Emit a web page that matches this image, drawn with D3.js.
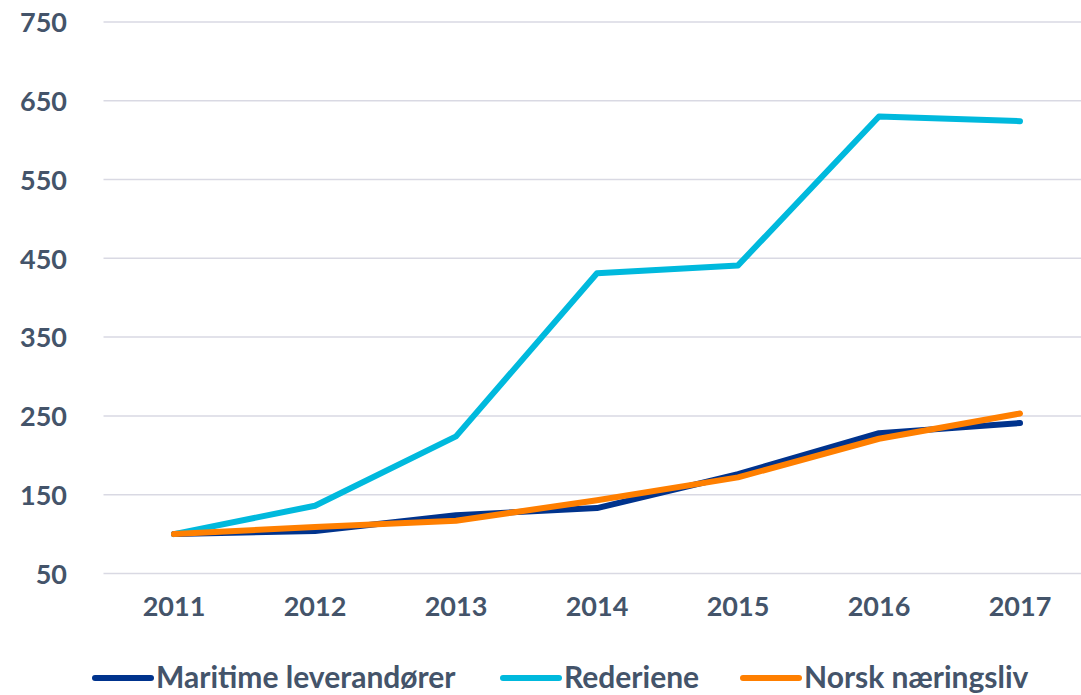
<!DOCTYPE html>
<html>
<head>
<meta charset="utf-8">
<script src="https://cdn.jsdelivr.net/npm/d3@7"></script>
<style>
  html, body { margin: 0; padding: 0; background: #fff; }
  svg { display: block; }
  text { font-family: Lato, "Open Sans", sans-serif; font-weight: 700; fill: #44546A; }
</style>
</head>
<body>
<svg id="chart" width="1081" height="695"></svg>
<script>
const years = ["2011", "2012", "2013", "2014", "2015", "2016", "2017"];
const maritime = [100, 104, 124, 133, 176, 228, 241];
const rederiene = [100, 136, 224, 431, 441, 630, 624];
const norsk = [100, 109, 117, 143, 172, 221, 253];
const yTicks = [50, 150, 250, 350, 450, 550, 650, 750];
const seriesNames = ["Maritime leverandører", "Rederiene", "Norsk næringsliv"];
const seriesColors = ["#00338D", "#00B9DD", "#FF7F00"];

const series = [
  { name: seriesNames[0], color: seriesColors[0], values: maritime },
  { name: seriesNames[1], color: seriesColors[1], values: rederiene },
  { name: seriesNames[2], color: seriesColors[2], values: norsk }
];

const svg = d3.select("#chart");
const W = 1081;

const x = d3.scaleBand().domain(years).range([103.5, 1090.5]).padding(0);
const y = d3.scaleLinear().domain([50, 750]).range([573.5, 21.9]);

// gridlines
svg.append("g")
  .selectAll("line")
  .data(yTicks)
  .join("line")
  .attr("x1", 103.5)
  .attr("x2", W)
  .attr("y1", d => y(d))
  .attr("y2", d => y(d))
  .attr("stroke", "#D9D9E3")
  .attr("stroke-width", 1.5);

// y axis labels
const yAxis = d3.axisLeft(y).tickValues(yTicks).tickSize(0).tickPadding(0).tickFormat(d3.format("d"));
const gy = svg.append("g").attr("transform", "translate(67,0)").call(yAxis);
gy.select(".domain").remove();
gy.selectAll("text")
  .attr("font-size", 27)
  .style("font-family", "Lato, sans-serif")
  .style("font-weight", 700)
  .attr("fill", "#44546A")
  .attr("dy", "0.36em");

// x axis labels
const xAxis = d3.axisBottom(x).tickSize(0).tickPadding(0);
const gx = svg.append("g").attr("transform", "translate(0,597)").call(xAxis);
gx.select(".domain").remove();
gx.selectAll("text")
  .attr("font-size", 27)
  .style("font-family", "Lato, sans-serif")
  .style("font-weight", 700)
  .attr("fill", "#44546A")
  .attr("dy", "0.71em");

// lines
const line = d3.line()
  .x((d, i) => x(years[i]) + x.bandwidth() / 2)
  .y(d => y(d));

svg.append("g")
  .selectAll("path")
  .data(series)
  .join("path")
  .attr("d", d => line(d.values))
  .attr("fill", "none")
  .attr("stroke", d => d.color)
  .attr("stroke-width", 6)
  .attr("stroke-linecap", "round")
  .attr("stroke-linejoin", "round");

// legend
const legendX = [95, 503, 743];
const lg = svg.append("g").selectAll("g")
  .data(series)
  .join("g")
  .attr("transform", (d, i) => `translate(${legendX[i]},678)`);
lg.append("line")
  .attr("x1", 0).attr("x2", 56)
  .attr("y1", 0).attr("y2", 0)
  .attr("stroke", d => d.color)
  .attr("stroke-width", 6)
  .attr("stroke-linecap", "round");
lg.append("text")
  .attr("x", 61)
  .attr("y", 9.5)
  .attr("font-size", 30)
  .text(d => d.name);
</script>
</body>
</html>
